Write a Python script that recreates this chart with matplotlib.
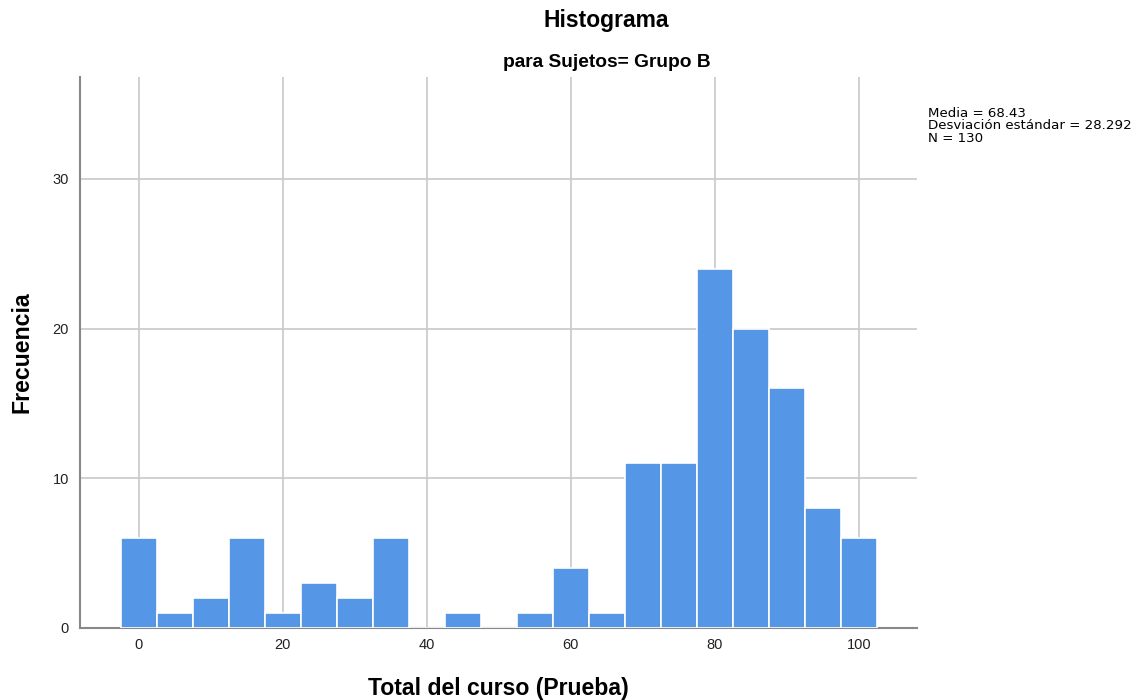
import numpy as np
import matplotlib.pyplot as plt

plt.rcParams['font.family'] = ['Liberation Sans', 'DejaVu Sans']

# Bin centres and frequencies (bin width 5)
centros = [0, 5, 10, 15, 20, 25, 30, 35, 40, 45, 50, 55, 60, 65, 70, 75, 80, 85, 90, 95, 100]
frecuencias = [6, 1, 2, 6, 1, 3, 2, 6, 0, 1, 0, 1, 4, 1, 11, 11, 24, 20, 16, 8, 6]
x_ticks = [0, 20, 40, 60, 80, 100]
y_ticks = [0, 10, 20, 30]
stats_text = "Media = 68.43\nDesviación estándar = 28.292\nN = 130"

fig = plt.figure(figsize=(11.44, 7), dpi=100)
ax = fig.add_axes([0.0699, 0.1029, 0.7317, 0.7871])

ax.bar(centros, frecuencias, width=5, color='#5596e6', edgecolor='white',
       linewidth=1.2, zorder=3)

ax.set_xlim(-8.2, 108.1)
ax.set_ylim(0, 36.8)
ax.set_xticks(x_ticks)
ax.set_yticks(y_ticks)
ax.grid(True, color='#c8c8c8', linewidth=1.2, zorder=0)
ax.tick_params(length=0, labelsize=10.5, colors='#222222', pad=8)
ax.tick_params(axis='x', pad=7)
for s in ['top', 'right']:
    ax.spines[s].set_visible(False)
for s in ['left', 'bottom']:
    ax.spines[s].set_color('#888888')
    ax.spines[s].set_linewidth(1.5)

# axis labels placed as figure text so they sit where the reference has them
fig.text(498 / 1144, 1 - 688 / 700, 'Total del curso (Prueba)', ha='center', va='center',
         fontsize=16.6, fontweight='bold')
fig.text(22 / 1144, 1 - 352 / 700, 'Frecuencia', ha='center', va='center', rotation=90,
         fontsize=16.7, fontweight='bold')

fig.text(0.53, 0.971, 'Histograma', ha='center', va='center', fontsize=16.5, fontweight='bold')
fig.text(0.53, 0.911, 'para Sujetos= Grupo B', ha='center', va='center', fontsize=13.8, fontweight='bold')
fig.text(0.811, 0.847, stats_text, ha='left', va='top', fontsize=9.6, linespacing=0.92,
         family='DejaVu Sans')

fig.savefig('out.png', dpi=100)
